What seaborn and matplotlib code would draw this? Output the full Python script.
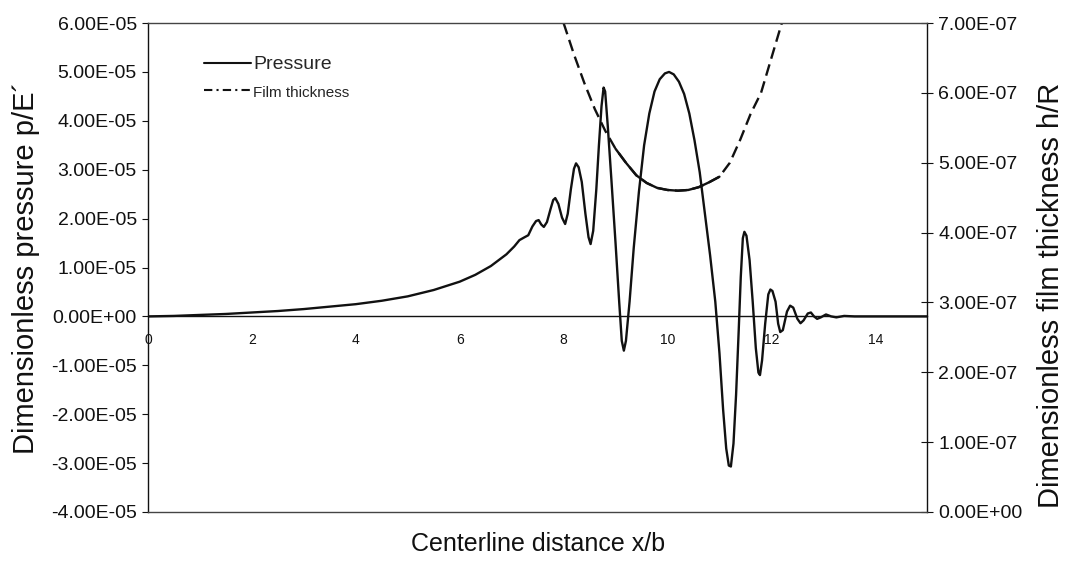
import numpy as np
import pandas as pd
import matplotlib
matplotlib.use('Agg')
import matplotlib.pyplot as plt
from matplotlib.ticker import FuncFormatter, MultipleLocator
from matplotlib.lines import Line2D
import seaborn as sns

# pressure (x/b, p/E' in units of 1e-5)
pressure_x = [0.0, 0.5, 1.0, 1.5, 2.0, 2.5, 3.0, 3.5, 4.0, 4.5, 5.0, 5.5, 6.0, 6.3, 6.6,
              6.9, 7.05, 7.15, 7.25, 7.32, 7.4, 7.47, 7.52, 7.57, 7.62, 7.68, 7.75, 7.8,
              7.84, 7.9, 7.97, 8.03, 8.08, 8.14, 8.2, 8.24, 8.29, 8.35, 8.42, 8.48, 8.52,
              8.57, 8.63, 8.68, 8.73, 8.77, 8.8, 8.85, 8.92, 9.0, 9.07, 9.12, 9.16, 9.2,
              9.27, 9.35, 9.45, 9.55, 9.65, 9.75, 9.85, 9.95, 10.03, 10.12, 10.22, 10.32,
              10.42, 10.52, 10.62, 10.72, 10.82, 10.92, 11.0, 11.07, 11.13, 11.18, 11.22,
              11.27, 11.32, 11.37, 11.41, 11.45, 11.48, 11.52, 11.58, 11.64, 11.7, 11.75,
              11.78, 11.82, 11.88, 11.94, 11.98, 12.02, 12.08, 12.13, 12.17, 12.22, 12.3,
              12.36, 12.42, 12.5, 12.56, 12.62, 12.7, 12.76, 12.82, 12.88, 12.95, 13.05,
              13.15, 13.25, 13.4, 13.6, 15.0]
pressure_p = [0.0, 0.01, 0.03, 0.05, 0.08, 0.11, 0.15, 0.2, 0.25, 0.32, 0.41, 0.54, 0.71,
              0.85, 1.03, 1.27, 1.43, 1.56, 1.62, 1.66, 1.84, 1.95, 1.97, 1.88, 1.83, 1.93,
              2.2, 2.38, 2.42, 2.3, 2.02, 1.89, 2.1, 2.6, 3.02, 3.13, 3.05, 2.75, 2.1, 1.62,
              1.48, 1.75, 2.6, 3.5, 4.3, 4.68, 4.6, 3.9, 2.8, 1.5, 0.3, -0.5, -0.7, -0.5,
              0.3, 1.4, 2.55, 3.5, 4.15, 4.6, 4.85, 4.97, 5.0, 4.95, 4.8, 4.55, 4.15, 3.6,
              2.95, 2.1, 1.25, 0.3, -0.75, -1.9, -2.7, -3.05, -3.07, -2.6, -1.6, -0.3, 0.8,
              1.6, 1.73, 1.65, 1.15, 0.3, -0.65, -1.15, -1.2, -0.9, -0.15, 0.45, 0.55, 0.52,
              0.3, -0.15, -0.32, -0.28, 0.1, 0.22, 0.18, -0.05, -0.14, -0.08, 0.06, 0.08,
              0.0, -0.05, -0.02, 0.04, 0.0, -0.02, 0.01, 0.0, 0.0]

# film thickness (x/b, h/R in units of 1e-7)
film_x = [8.0, 8.2, 8.4, 8.6, 8.8, 9.0, 9.2, 9.4, 9.6, 9.8, 10.0, 10.2, 10.4, 10.6, 10.8,
          11.0, 11.2, 11.4, 11.6, 11.8, 12.0, 12.2]
film_h = [7.0, 6.55, 6.14, 5.77, 5.46, 5.2, 5.0, 4.82, 4.71, 4.64, 4.61, 4.6, 4.61, 4.65,
          4.72, 4.8, 5.0, 5.33, 5.7, 6.0, 6.5, 7.0]

x_ticks = [0, 2, 4, 6, 8, 10, 12, 14]

df_p = pd.DataFrame({'x': pressure_x, 'p': np.array(pressure_p) * 1e-5})
df_h = pd.DataFrame({'x': film_x, 'h': np.array(film_h) * 1e-7})

sns.set_style('white')
plt.rcParams['font.family'] = ['Liberation Sans', 'DejaVu Sans']

fig = plt.figure(figsize=(10.72, 5.62), dpi=100)
ax = fig.add_axes([0.138, 0.089, 0.727, 0.870])
ax2 = ax.twinx()

ink = '#111111'
sns.lineplot(data=df_p, x='x', y='p', ax=ax, color=ink, linewidth=1.7, sort=False)
sns.lineplot(data=df_h, x='x', y='h', ax=ax2, color=ink, linewidth=1.7,
             linestyle=(0, (5, 2.5)), sort=False)
# the flat bottom of the film curve prints as a solid stroke in the original
mid = df_h[(df_h.x >= 9.0) & (df_h.x <= 11.0)]
sns.lineplot(data=mid, x='x', y='h', ax=ax2, color=ink, linewidth=1.7, sort=False)

ax.set_xlim(0, 15)
ax.set_ylim(-4e-5, 6e-5)
ax2.set_ylim(0, 7e-7)
ax.set_xticks(x_ticks)
ax.yaxis.set_major_locator(MultipleLocator(1e-5))
ax2.yaxis.set_major_locator(MultipleLocator(1e-7))
fmt = FuncFormatter(lambda v, _: f'{v:.2E}')
ax.yaxis.set_major_formatter(fmt)
ax2.yaxis.set_major_formatter(fmt)

# x axis crosses at zero pressure, Excel style
ax.spines['bottom'].set_position(('data', 0))
ax.spines['bottom'].set_color(ink)
ax.spines['bottom'].set_linewidth(1.0)
ax.spines['top'].set_visible(False)
ax.spines['right'].set_visible(False)
ax.spines['left'].set_color(ink)
ax.spines['left'].set_linewidth(1.0)
ax2.spines['left'].set_visible(False)
ax2.spines['right'].set_color(ink)
ax2.spines['right'].set_linewidth(1.0)
for s in ['top', 'bottom']:
    ax2.spines[s].set_linestyle((0, (1, 1)))
    ax2.spines[s].set_color('#444444')
    ax2.spines[s].set_linewidth(1.0)

ax.tick_params(axis='x', direction='out', length=4, width=0.8, labelsize=10, pad=8, colors=ink)
ax.tick_params(axis='y', direction='out', length=4, width=0.8, labelsize=14, pad=4, colors=ink)
ax2.tick_params(axis='y', direction='inout', length=8, width=0.8, labelsize=14, pad=4, colors=ink)

ax.set_xlabel('Centerline distance x/b', fontsize=18, color=ink)
ax.xaxis.set_label_coords(0.5, -0.041)
ax.set_ylabel('Dimensionless pressure p/E\u00b4', fontsize=21, color=ink)
ax.yaxis.set_label_coords(-0.139, 0.5)
ax2.set_ylabel('Dimensionless film thickness h/R', fontsize=21, color=ink)
ax2.yaxis.set_label_coords(1.141, 0.444)

handles = [Line2D([], [], color=ink, linewidth=1.5),
           Line2D([], [], color=ink, linewidth=1.5, linestyle=(0, (4, 2, 1, 2)))]
leg = ax.legend(handles, ['Pressure', 'Film thickness'], loc='upper left',
                bbox_to_anchor=(0.06, 0.953), frameon=False, fontsize=14, borderpad=0,
                handlelength=2.4, handletextpad=0.1, labelspacing=0.5)
leg.get_texts()[1].set_fontsize(11)

fig.savefig('out.png', dpi=100)
